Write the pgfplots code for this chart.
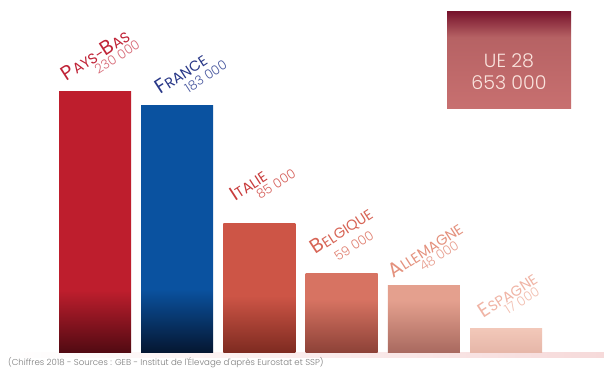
\documentclass[border=0pt]{standalone}
\usepackage{graphicx}
\usepackage{pgfplots}
\pgfplotsset{compat=1.18}
\usepackage{fontspec}
\setmainfont{Poppins}
\newfontfamily\poplight{Poppins}[UprightFont=* Light]

\definecolor{pbM}{RGB}{190,30,45}   \definecolor{pbD}{RGB}{80,10,18}
\definecolor{frM}{RGB}{10,82,160}   \definecolor{frD}{RGB}{5,22,48}
\definecolor{itM}{RGB}{205,85,70}   \definecolor{itD}{RGB}{125,42,32}
\definecolor{beM}{RGB}{215,115,98}  \definecolor{beD}{RGB}{140,65,55}
\definecolor{alM}{RGB}{228,160,142} \definecolor{alD}{RGB}{168,105,95}
\definecolor{esM}{RGB}{242,200,185} \definecolor{esD}{RGB}{230,182,168}

\definecolor{pbN}{RGB}{192,35,55}   \definecolor{pbV}{RGB}{215,105,118}
\definecolor{frN}{RGB}{40,55,135}   \definecolor{frV}{RGB}{75,90,160}
\definecolor{itN}{RGB}{200,60,60}   \definecolor{itV}{RGB}{215,100,95}
\definecolor{beN}{RGB}{215,100,85}  \definecolor{beV}{RGB}{225,130,115}
\definecolor{alN}{RGB}{228,145,125} \definecolor{alV}{RGB}{232,160,145}
\definecolor{esN}{RGB}{240,180,165} \definecolor{esV}{RGB}{242,190,175}

\definecolor{ueTop}{RGB}{120,20,45}
\definecolor{ueMid}{RGB}{182,98,100}
\definecolor{ueBot}{RGB}{200,112,112}
\definecolor{ueTxt}{RGB}{250,228,222}
\definecolor{bandpink}{RGB}{246,218,218}
\definecolor{footgray}{RGB}{125,125,125}

% vertical shadings: 25bp = bottom of bar, 75bp = top of bar
\newcommand\barshade[4]{%
  \pgfdeclareverticalshading{#1}{100bp}{color(0bp)=(#2); color(25bp)=(#2);
    color(#4)=(#3); color(100bp)=(#3)}}
\barshade{shPB}{pbD}{pbM}{37bp}
\barshade{shFR}{frD}{frM}{38bp}
\barshade{shIT}{itD}{itM}{47bp}
\barshade{shBE}{beD}{beM}{59bp}
\barshade{shAL}{alD}{alM}{64bp}
\barshade{shES}{esD}{esM}{75bp}
\pgfdeclareverticalshading{shUE}{100bp}{color(0bp)=(ueBot); color(25bp)=(ueBot);
  color(62bp)=(ueMid); color(75bp)=(ueTop); color(100bp)=(ueTop)}

\newcommand\nm[2]{{\fontsize{20bp}{20bp}\selectfont #1}{\fontsize{14.5bp}{14.5bp}\selectfont #2}}

\begin{document}
\begin{tikzpicture}
\path[use as bounding box] (0,0) rectangle (604bp,368bp);
\fill[white] (0,0) rectangle (604bp,368bp);
% ground band
\shade[left color=white, right color=bandpink] (0,10bp) rectangle (604bp,15bp);

\begin{axis}[
  at={(95bp,15bp)}, anchor=origin,
  scale only axis, width=493.2bp, height=300bp,
  xmin=-0.5, xmax=5.5, ymin=0, ymax=300,
  hide axis, clip=false,
  ybar, bar width=72bp, bar shift=0pt,
]
\addplot[draw=none, shade, shading=shPB] coordinates {(0,261.3)};
\addplot[draw=none, shade, shading=shFR] coordinates {(1,247)};
\addplot[draw=none, shade, shading=shIT] coordinates {(2,129.7)};
\addplot[draw=none, shade, shading=shBE] coordinates {(3,79)};
\addplot[draw=none, shade, shading=shAL] coordinates {(4,67.3)};
\addplot[draw=none, shade, shading=shES] coordinates {(5,24.7)};
\coordinate (b0) at (axis cs:0,261.3);
\coordinate (b1) at (axis cs:1,247);
\coordinate (b2) at (axis cs:2,129.7);
\coordinate (b3) at (axis cs:3,79);
\coordinate (b4) at (axis cs:4,67.3);
\coordinate (b5) at (axis cs:5,24.7);
\end{axis}

\tikzset{nmS/.style={rotate=33, anchor=base west, inner sep=0pt, text=#1},
         vlS/.style={rotate=33, anchor=base west, inner sep=0pt, text=#1,
                     font=\poplight\fontsize{13bp}{13bp}\selectfont}}
% labels
\node[nmS=pbN] at ([shift={(-28.3bp,10.3bp)}]b0) {\nm{P}{AYS-}\nm{B}{AS}};
\node[vlS=pbV] at ([shift={(3.3bp,17bp)}]b0) {230 000};
\node[nmS=frN] at ([shift={(-17bp,11bp)}]b1) {\nm{F}{RANCE}};
\node[vlS=frV] at ([shift={(11.3bp,12.7bp)}]b1) {183 000};
\node[nmS=itN] at ([shift={(-24.5bp,21.6bp)}]b2) {\nm{I}{TALIE}};
\node[vlS=itV] at ([shift={(0.5bp,23.3bp)}]b2) {85 000};
\node[nmS=beN] at ([shift={(-26bp,19bp)}]b3) {\nm{B}{ELGIQUE}};
\node[vlS=beV] at ([shift={(-3.7bp,12.3bp)}]b3) {59 000};
\node[nmS=alN] at ([shift={(-30.7bp,7.4bp)}]b4) {\nm{A}{LLEMAGNE}};
\node[vlS=alV] at ([shift={(-0.7bp,14bp)}]b4) {48 000};
\node[nmS=esN] at ([shift={(-22.7bp,10bp)}]b5) {\nm{E}{SPAGNE}};
\node[vlS=esV] at ([shift={(2.3bp,13.3bp)}]b5) {17 000};

% UE 28 box
\shade[shading=shUE] (447bp,259bp) rectangle (571bp,356bp);
\node[anchor=base, inner sep=0pt, text=ueTxt, font=\poplight\fontsize{19bp}{19bp}\selectfont] at (509bp,300bp) {UE 28};
\node[anchor=base, inner sep=0pt, text=ueTxt, font=\poplight\fontsize{19bp}{19bp}\selectfont] at (509bp,278bp) {653 000};

% source
\node[anchor=base west, inner sep=0pt, text=footgray, font=\poplight\fontsize{8.6bp}{9bp}\selectfont] at (8bp,2.5bp)
  {(Chiffres 2018 - Sources : GEB - Institut de l'Élevage d'après Eurostat et SSP)};
\end{tikzpicture}
\end{document}
